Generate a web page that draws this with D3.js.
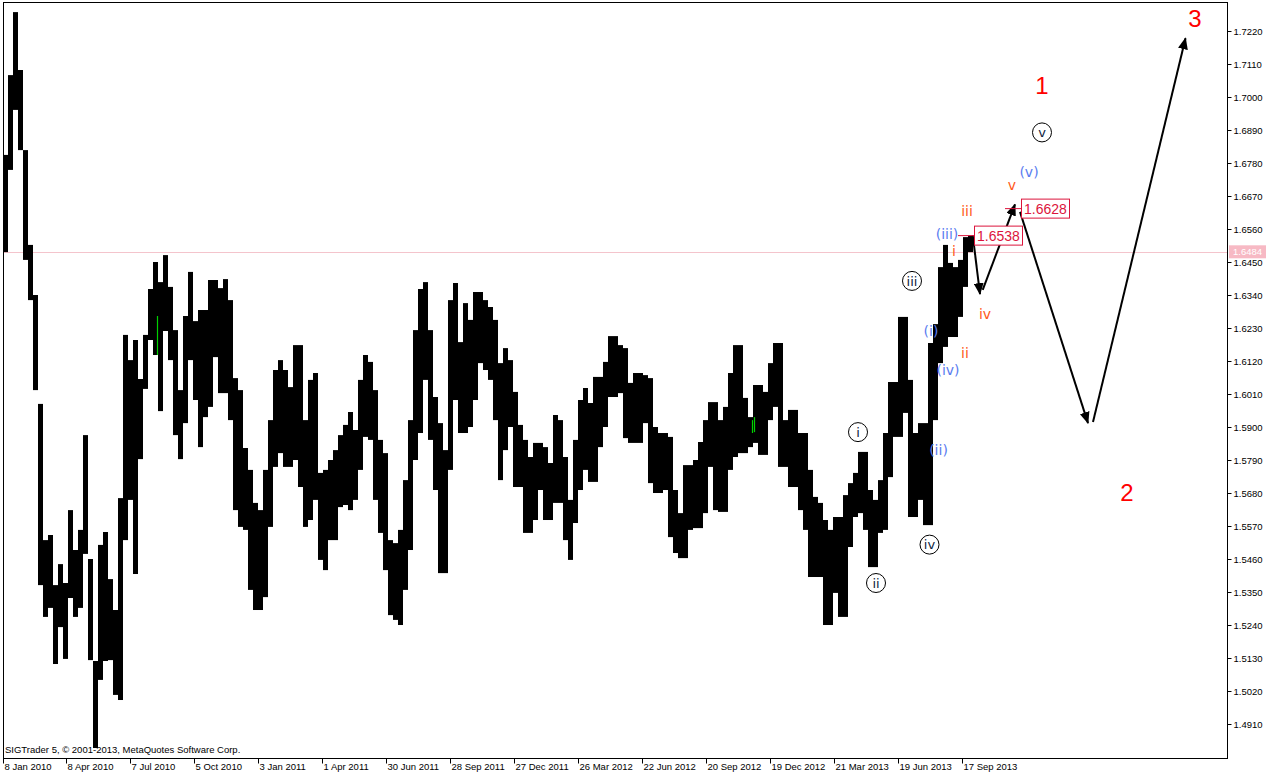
<!DOCTYPE html>
<html><head><meta charset="utf-8">
<script src="https://cdn.jsdelivr.net/npm/d3@7"></script>
<style>
html,body{margin:0;padding:0;background:#fff;overflow:hidden;}
svg{display:block;}
</style></head><body>
<svg id="chart" width="1276" height="777"></svg>
<script>
// ---------------- data ----------------
const tickLabels = ["8 Jan 2010","8 Apr 2010","7 Jul 2010","5 Oct 2010","3 Jan 2011","1 Apr 2011","30 Jun 2011","28 Sep 2011","27 Dec 2011","26 Mar 2012","22 Jun 2012","20 Sep 2012","19 Dec 2012","21 Mar 2013","19 Jun 2013","17 Sep 2013"];
const tickBars = [0,63,127,191,255,319,383,447,511,575,639,703,767,831,895,959];
const yTickValues = [1.4910,1.5020,1.5130,1.5240,1.5350,1.5460,1.5570,1.5680,1.5790,1.5900,1.6010,1.6120,1.6230,1.6340,1.6450,1.6560,1.6670,1.6780,1.6890,1.7000,1.7110,1.7220];

// weekly high / low (5 daily bars per slot)
const weekHigh = [1.6807,1.7073,1.7283,1.7090,1.6823,1.6507,1.6340,1.5977,1.5523,1.5540,
1.5373,1.5443,1.5380,1.5623,1.5490,1.5557,1.5873,1.5460,1.5120,1.5507,
1.5550,1.5393,1.5290,1.5663,1.6207,1.6123,1.6190,1.6060,1.6207,1.6360,
1.6450,1.6383,1.6473,1.6367,1.6223,1.6023,1.6270,1.6417,1.6253,1.6290,
1.6290,1.6390,1.6390,1.6363,1.6393,1.6323,1.6063,1.6023,1.5830,1.5757,
1.5647,1.5623,1.5757,1.5923,1.6090,1.6123,1.6090,1.6033,1.6173,1.6173,
1.5923,1.6057,1.6080,1.5747,1.5757,1.5790,1.5823,1.5873,1.5907,1.5950,
1.5890,1.6057,1.6140,1.6117,1.6023,1.5857,1.5813,1.5523,1.5513,1.5557,
1.5723,1.5923,1.6223,1.6360,1.6383,1.6223,1.6000,1.5913,1.5823,1.6323,
1.6380,1.6183,1.6313,1.6257,1.6350,1.6350,1.6323,1.6300,1.6257,1.6113,
1.6163,1.6123,1.6017,1.5907,1.5857,1.5800,1.5847,1.5847,1.5833,1.5780,
1.5940,1.5923,1.5800,1.5657,1.5857,1.5990,1.6030,1.5980,1.6067,1.6067,
1.6117,1.6203,1.6203,1.6173,1.6163,1.6047,1.6080,1.6080,1.6073,1.6063,
1.5900,1.5880,1.5880,1.5867,1.5690,1.5613,1.5773,1.5773,1.5790,1.5850,
1.5923,1.5983,1.5983,1.5923,1.5967,1.6080,1.6173,1.6173,1.5997,1.5933,
1.6040,1.6040,1.6017,1.6113,1.6180,1.6180,1.5923,1.5957,1.5957,1.5880,
1.5880,1.5757,1.5667,1.5647,1.5590,1.5557,1.5600,1.5600,1.5673,1.5713,
1.5747,1.5817,1.5817,1.5690,1.5657,1.5723,1.5880,1.6050,1.6050,1.6267,
1.6267,1.6057,1.5880,1.5913,1.5913,1.6180,1.6243,1.6433,1.6507,1.6447,
1.6433,1.6457,1.6533,1.6538];
const weekLow = [1.6483,1.6757,1.6957,1.6823,1.6457,1.6323,1.6023,1.5373,1.5267,1.5297,
1.5110,1.5233,1.5127,1.5330,1.5267,1.5297,1.5477,1.5123,1.4830,1.5057,
1.5120,1.5123,1.5007,1.4990,1.5523,1.5657,1.5410,1.5793,1.6027,1.6190,
1.6140,1.5953,1.6220,1.6123,1.5873,1.5793,1.5913,1.6123,1.5990,1.5833,
1.5933,1.5967,1.6133,1.6013,1.6013,1.5923,1.5623,1.5567,1.5557,1.5357,
1.5290,1.5290,1.5333,1.5567,1.5767,1.5813,1.5767,1.5767,1.5790,1.5700,
1.5567,1.5590,1.5657,1.5457,1.5423,1.5523,1.5523,1.5633,1.5640,1.5623,
1.5657,1.5757,1.5867,1.5857,1.5657,1.5547,1.5423,1.5273,1.5257,1.5240,
1.5357,1.5490,1.5790,1.5880,1.6057,1.5857,1.5690,1.5413,1.5413,1.5757,
1.5990,1.5880,1.5880,1.5900,1.5990,1.6113,1.6090,1.6057,1.5923,1.5723,
1.5823,1.5900,1.5700,1.5700,1.5547,1.5547,1.5590,1.5690,1.5590,1.5590,
1.5647,1.5647,1.5523,1.5457,1.5580,1.5690,1.5757,1.5717,1.5717,1.5833,
1.5900,1.6000,1.6000,1.6013,1.5863,1.5847,1.5847,1.5847,1.5913,1.5713,
1.5680,1.5680,1.5690,1.5533,1.5480,1.5463,1.5463,1.5557,1.5563,1.5563,
1.5613,1.5767,1.5623,1.5617,1.5617,1.5757,1.5800,1.5813,1.5813,1.5833,
1.5847,1.5807,1.5807,1.5923,1.5967,1.5767,1.5767,1.5700,1.5700,1.5623,
1.5557,1.5400,1.5400,1.5400,1.5240,1.5240,1.5347,1.5267,1.5267,1.5500,
1.5600,1.5613,1.5557,1.5433,1.5433,1.5547,1.5557,1.5733,1.5867,1.5867,
1.5947,1.5600,1.5600,1.5657,1.5573,1.5573,1.5923,1.6113,1.6167,1.6200,
1.6200,1.6267,1.6367,1.6483];
const greenBars = [{bar:154, high:1.6270, low:1.6140},{bar:749, high:1.5923, low:1.5880},{bar:751, high:1.5933, low:1.5883}];
const currentPrice = 1.6484;

// Elliott wave annotations (bar index, price)
const priceMarks = [
  {label:"1.6538", price:1.6538, bar0:955, bar1:971},
  {label:"1.6628", price:1.6628, bar0:1002, bar1:1018}
];
const projectionArrows = [
  {b0:969.7, p0:1.6540, b1:977, p1:1.6343},
  {b0:979.7, p0:1.6357, b1:1012, p1:1.6642},
  {b0:1017, p0:1.6617, b1:1085, p1:1.5913},
  {b0:1090, p0:1.5917, b1:1182.5, p1:1.7196}
];
const degreeLabels = [
  {t:"3", bar:1192, price:1.7262},
  {t:"1", bar:1039, price:1.7040},
  {t:"2", bar:1124, price:1.5683}
];
const circledLabels = [
  {t:"v", bar:1039, price:1.6882},
  {t:"iii", bar:909, price:1.6387},
  {t:"i", bar:855, price:1.5883},
  {t:"iv", bar:926.5, price:1.5508},
  {t:"ii", bar:873, price:1.5380}
];
const blueLabels = [
  {t:"(v)", bar:1026, price:1.6750},
  {t:"(iii)", bar:944, price:1.6542},
  {t:"(i)", bar:928, price:1.6220},
  {t:"(iv)", bar:945, price:1.6090},
  {t:"(ii)", bar:935.5, price:1.5823}
];
const orangeLabels = [
  {t:"v", bar:1009, price:1.6707},
  {t:"iii", bar:964, price:1.6620},
  {t:"i", bar:951, price:1.6487},
  {t:"iv", bar:982, price:1.6277},
  {t:"ii", bar:962, price:1.6147}
];

// ---------------- layout ----------------
const plot = {left:3, right:1227, top:2, bottom:758};
const svg = d3.select("#chart");
const x = d3.scaleLinear().domain([0, 1224]).range([plot.left, plot.right]);
const y = d3.scaleLinear().domain([1.47967, 1.73167]).range([plot.bottom, plot.top]);
const axisFont = "'Liberation Sans',Arial,sans-serif";
const axisSize = 9.5;

svg.append("rect").attr("width",1276).attr("height",777).attr("fill","#fff");

// current price line
svg.append("line")
  .attr("x1", plot.left).attr("x2", plot.right)
  .attr("y1", Math.round(y(currentPrice))+0.5).attr("y2", Math.round(y(currentPrice))+0.5)
  .attr("stroke", "#f4c4cc").attr("stroke-width", 1);

// bars
const weeks = weekHigh.map((h,i)=>({i, high:h, low:weekLow[i]}));
svg.append("g").selectAll("rect").data(weeks).join("rect")
  .attr("x", d => x(d.i*5))
  .attr("width", d => x(d.i*5+5) - x(d.i*5))
  .attr("y", d => y(d.high))
  .attr("height", d => Math.max(1, y(d.low) - y(d.high)))
  .attr("fill", "#000");

svg.append("g").selectAll("line").data(greenBars).join("line")
  .attr("x1", d => x(d.bar)+0.5).attr("x2", d => x(d.bar)+0.5)
  .attr("y1", d => y(d.high)).attr("y2", d => y(d.low))
  .attr("stroke", "#00d000").attr("stroke-width", 1.2);

// frame
svg.append("rect")
  .attr("x", plot.left+0.5).attr("y", plot.top+0.5)
  .attr("width", plot.right-plot.left).attr("height", plot.bottom-plot.top)
  .attr("fill","none").attr("stroke","#000").attr("stroke-width",1);

// y axis (right)
const yAxis = d3.axisRight(y).tickValues(yTickValues).tickSize(4).tickPadding(2)
  .tickFormat(d3.format(".4f"));
const gy = svg.append("g").attr("transform", `translate(${plot.right+0.5},0)`).call(yAxis);
gy.select(".domain").remove();
gy.selectAll("text").attr("font-family", axisFont).attr("font-size", axisSize).attr("fill","#000");
gy.selectAll("line").attr("stroke","#000");

// current price tag
const cpY = y(currentPrice);
svg.append("rect").attr("x", plot.right+2).attr("y", cpY-6.5).attr("width", 37).attr("height", 13).attr("fill", "#f7b9c4");
svg.append("text").attr("x", plot.right+6).attr("y", cpY).attr("dy","0.35em")
  .attr("font-family", axisFont).attr("font-size", axisSize).attr("fill","#fff").text(d3.format(".4f")(currentPrice));

// x axis (bottom)
const xAxis = d3.axisBottom(x).tickValues(tickBars).tickSize(5).tickFormat((d,i)=>tickLabels[i]);
const gx = svg.append("g").attr("transform", `translate(0,${plot.bottom+0.5})`).call(xAxis);
gx.select(".domain").remove();
gx.selectAll("line").attr("stroke","#000");
gx.selectAll("text").attr("font-family", axisFont).attr("font-size", axisSize).attr("fill","#000")
  .attr("text-anchor","start").attr("dx", 1).attr("y", 5);

// copyright
svg.append("text").attr("x", 5).attr("y", 753).attr("font-family", axisFont).attr("font-size", axisSize)
  .attr("fill","#000").text("SIGTrader 5, \u00a9 2001-2013, MetaQuotes Software Corp.");

// arrowhead marker
const defs = svg.append("defs");
defs.append("marker").attr("id","ah").attr("viewBox","0 0 12 10").attr("refX",11).attr("refY",5)
  .attr("markerUnits","userSpaceOnUse").attr("markerWidth",12).attr("markerHeight",10)
  .attr("orient","auto")
  .append("path").attr("d","M0,0 L12,5 L0,10 Z").attr("fill","#000");

svg.append("g").selectAll("line").data(projectionArrows).join("line")
  .attr("x1", d=>x(d.b0)).attr("y1", d=>y(d.p0))
  .attr("x2", d=>x(d.b1)).attr("y2", d=>y(d.p1))
  .attr("stroke","#000").attr("stroke-width",2).attr("marker-end","url(#ah)");

// price marks
const pm = svg.append("g").selectAll("g").data(priceMarks).join("g");
pm.append("line").attr("x1", d=>x(d.bar0)).attr("x2", d=>x(d.bar1))
  .attr("y1", d=>y(d.price)).attr("y2", d=>y(d.price)).attr("stroke","#dc143c").attr("stroke-width",1);
pm.append("rect").attr("x", d=>x(d.bar1)+0.5).attr("y", d=>y(d.price)-9.5)
  .attr("width", 48).attr("height", 19).attr("fill","#fff").attr("stroke","#dc143c").attr("stroke-width",1);
pm.append("text").attr("x", d=>x(d.bar1)+24.5).attr("y", d=>y(d.price)).attr("dy","0.36em")
  .attr("text-anchor","middle").attr("font-family","'Liberation Sans',Arial,sans-serif").attr("font-size",14)
  .attr("fill","#dc143c").text(d=>d.label);

// labels
const waveFont = "'DejaVu Sans',Verdana,sans-serif";
svg.append("g").selectAll("text").data(degreeLabels).join("text")
  .attr("x", d=>x(d.bar)).attr("y", d=>y(d.price)).attr("dy","0.36em").attr("text-anchor","middle")
  .attr("font-family","'Liberation Sans',Arial,sans-serif").attr("font-size",24).attr("fill","#ff0000").text(d=>d.t);

const cg = svg.append("g").selectAll("g").data(circledLabels).join("g")
  .attr("transform", d=>`translate(${x(d.bar)},${y(d.price)})`);
cg.append("circle").attr("r",9.5).attr("fill","#fff").attr("stroke","#000").attr("stroke-width",1);
cg.append("text").attr("dy","0.36em").attr("text-anchor","middle").attr("font-family",waveFont)
  .attr("font-size",13).attr("fill","#0d2240").text(d=>d.t);

svg.append("g").selectAll("text").data(blueLabels).join("text")
  .attr("x", d=>x(d.bar)).attr("y", d=>y(d.price)).attr("dy","0.36em").attr("text-anchor","middle")
  .attr("font-family",waveFont).attr("font-size",14).attr("fill","#5a7cf0").text(d=>d.t);

svg.append("g").selectAll("text").data(orangeLabels).join("text")
  .attr("x", d=>x(d.bar)).attr("y", d=>y(d.price)).attr("dy","0.36em").attr("text-anchor","middle")
  .attr("font-family",waveFont).attr("font-size",14).attr("fill","#ff5a1a").text(d=>d.t);
</script>
</body></html>
